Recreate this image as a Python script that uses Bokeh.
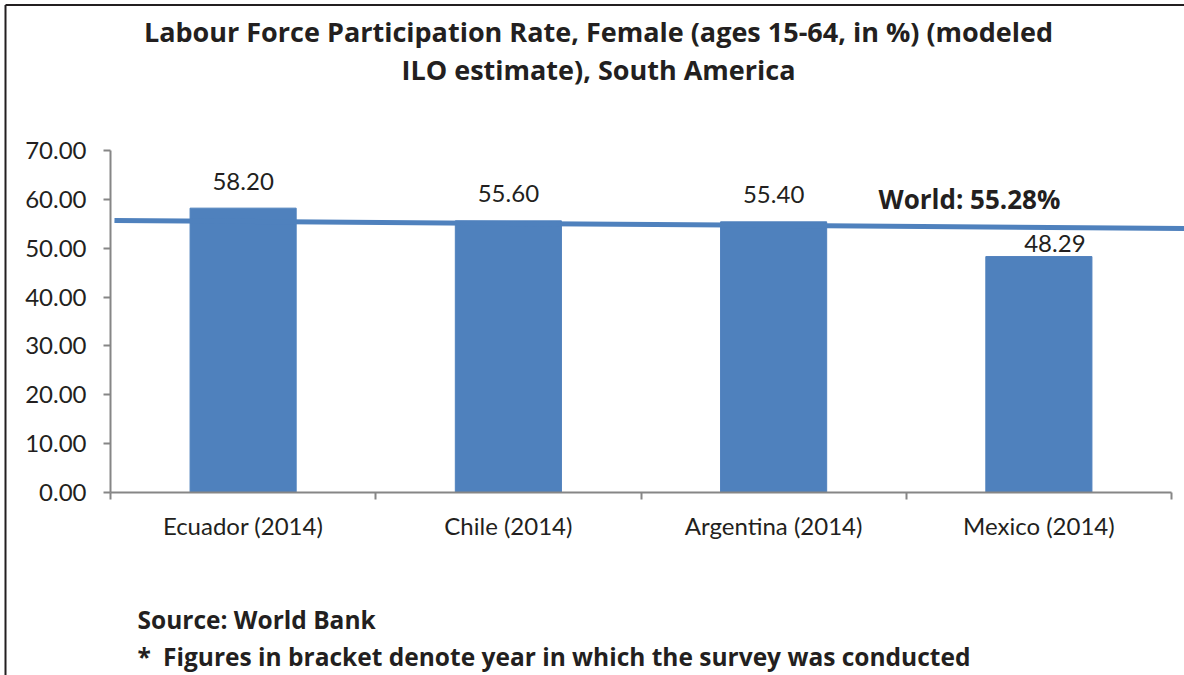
from bokeh.plotting import figure
from bokeh.models import Range1d, FixedTicker, Label, NumeralTickFormatter
from bokeh.embed import file_html
from bokeh.resources import INLINE

# ---- data ----
categories = ["Ecuador (2014)", "Chile (2014)", "Argentina (2014)", "Mexico (2014)"]
values = [58.20, 55.60, 55.40, 48.29]
value_labels = ["58.20", "55.60", "55.40", "48.29"]
world_label = "World: 55.28%"
world_x = [0.015, 4.05]
world_y = [55.67, 54.03]
y_ticks = [0, 10, 20, 30, 40, 50, 60, 70]
title_lines = ["Labour Force Participation Rate, Female (ages 15-64, in %) (modeled",
               "ILO estimate), South America"]
notes = ["Source: World Bank",
         "*\u2002Figures in bracket denote year in which the survey was conducted"]

FONT = "Lato"
BFONT = "Open Sans"
TXT = "#231f20"
BLUE = "#4f81bd"
AXIS = "#868686"

W, H = 1184, 675
# page-pixel positions of the axis box (x: 0..4 categories, y: 0..70)
FL, FR4, FT70, FB0 = 110, 1171, 150, 492
XS = (FR4 - FL) / 4.0
YS = (FB0 - FT70) / 70.0


def px2x(px):
    return (px - FL) / XS


def px2y(py):
    return (FB0 - py) / YS


p = figure(width=W, height=H, output_backend="svg", toolbar_location=None,
           x_range=Range1d(px2x(0), px2x(W)), y_range=Range1d(px2y(H), px2y(0)))
p.min_border = 0
p.min_border_left = 0
p.min_border_right = 0
p.min_border_top = 0
p.min_border_bottom = 0
p.outline_line_color = None
p.xgrid.visible = False
p.ygrid.visible = False
p.background_fill_color = "white"
p.border_fill_color = "white"

# chart border (left and top edges)
p.segment(x0=[px2x(5), px2x(5)], y0=[px2y(4.5), px2y(4.5)],
          x1=[px2x(5), px2x(W + 5)], y1=[px2y(H + 5), px2y(4.5)],
          line_color=TXT, line_width=2)

# bars
centers = [i + 0.5 for i in range(len(categories))]
p.vbar(x=centers, top=values, width=0.4, bottom=0, fill_color=BLUE, line_color=BLUE)

# world line
p.line(world_x, world_y, line_color=BLUE, line_width=5)

# axes (fixed inside the full-canvas frame)
xa = p.xaxis[0]
xa.fixed_location = 0
xa.ticker = FixedTicker(ticks=centers, minor_ticks=list(range(len(categories) + 1)))
xa.major_label_overrides = {c: n for c, n in zip(centers, categories)}
xa.bounds = (0, len(categories))
xa.major_tick_out = 0
xa.major_tick_in = 0
xa.minor_tick_out = 7
xa.minor_tick_in = 0
xa.minor_tick_line_color = AXIS
xa.axis_line_color = AXIS
xa.axis_line_width = 2
xa.minor_tick_line_width = 2
xa.major_label_text_font = FONT
xa.major_label_text_font_size = "24px"
xa.major_label_text_color = TXT
xa.major_label_standoff = 11

ya = p.yaxis[0]
ya.fixed_location = 0
ya.ticker = FixedTicker(ticks=y_ticks, minor_ticks=[])
ya.bounds = (0, 70)
ya.formatter = NumeralTickFormatter(format="0.00")
ya.major_tick_out = 7
ya.major_tick_in = 0
ya.major_tick_line_color = AXIS
ya.major_tick_line_width = 2
ya.axis_line_color = AXIS
ya.axis_line_width = 2
ya.major_label_text_font = FONT
ya.major_label_text_font_size = "24px"
ya.major_label_text_color = TXT
ya.major_label_standoff = 17

# value labels
for i, (c, v, t) in enumerate(zip(centers, values, value_labels)):
    dx, dy = (16, 13) if i == 3 else (0, 27)
    p.add_layout(Label(x=c, y=v, text=t, x_offset=dx, y_offset=dy,
                       text_align="center", text_baseline="middle",
                       text_font=FONT, text_font_size="24px", text_color=TXT))

# world label
p.add_layout(Label(x=px2x(878), y=px2y(198), text=world_label, text_align="left",
                   text_baseline="middle", text_font=BFONT, text_font_style="bold",
                   text_font_size="26px", text_color=TXT))

# title
for line, ypx in zip(title_lines, [31, 69]):
    p.add_layout(Label(x=px2x(598), y=px2y(ypx), text=line, text_align="center",
                       text_baseline="middle", text_font=BFONT, text_font_style="bold",
                       text_font_size="27px", text_color=TXT))

# notes
for line, ypx in zip(notes, [619, 656]):
    p.add_layout(Label(x=px2x(137), y=px2y(ypx), text=line, text_align="left",
                       text_baseline="middle", text_font=BFONT, text_font_style="bold",
                       text_font_size="24.5px", text_color=TXT))

open("out.html", "w").write(file_html(p, INLINE))
